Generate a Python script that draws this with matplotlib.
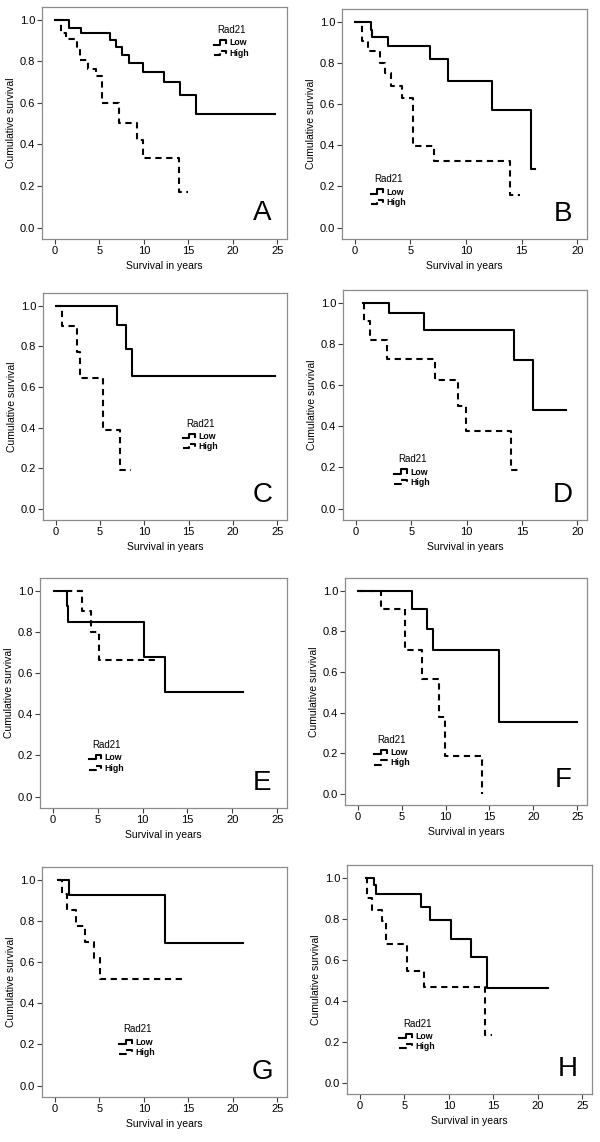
import matplotlib
matplotlib.use("Agg")
import matplotlib.pyplot as plt
from matplotlib.lines import Line2D
from matplotlib.legend_handler import HandlerBase

plt.rcParams['font.family'] = ['Liberation Sans', 'DejaVu Sans']

# Kaplan-Meier curves: step times, survival after each step, last follow-up time
letters = ['A', 'B', 'C', 'D', 'E', 'F', 'G', 'H']
x_max = [25, 20, 25, 20, 25, 25, 25, 25]

low_t = [
    [0, 1.58, 2.97, 6.17, 6.84, 7.6, 8.38, 9.96, 12.3, 14.1, 15.9],
    [0, 1.45, 1.58, 2.94, 6.76, 8.42, 12.3, 15.85],
    [0, 6.88, 7.9, 8.57],
    [0.66, 3.02, 6.16, 14.26, 15.98],
    [0.1, 1.55, 1.7, 10.2, 12.44],
    [0, 6.18, 7.9, 8.59, 16.07],
    [0.38, 1.62, 12.4],
    [0.64, 1.59, 1.77, 6.87, 7.93, 10.27, 12.46, 14.24],
]
low_s = [
    [1.0, 0.96, 0.936, 0.903, 0.871, 0.833, 0.794, 0.749, 0.699, 0.638, 0.545],
    [1.0, 0.96, 0.925, 0.883, 0.818, 0.713, 0.57, 0.285],
    [1.0, 0.904, 0.788, 0.656],
    [1.0, 0.952, 0.866, 0.72, 0.48],
    [1.0, 0.925, 0.846, 0.68, 0.509],
    [1.0, 0.909, 0.812, 0.706, 0.352],
    [1.0, 0.926, 0.692],
    [1.0, 0.963, 0.922, 0.857, 0.792, 0.701, 0.614, 0.463],
]
low_end = [24.8, 16.2, 24.8, 19.0, 21.2, 25.0, 21.2, 21.2]

high_t = [
    [0, 0.68, 1.28, 2.44, 2.8, 3.7, 4.6, 5.3, 7.2, 9.2, 9.9, 14.0],
    [0, 0.6, 1.15, 2.27, 2.73, 3.24, 4.24, 5.2, 7.12, 13.94],
    [0, 0.68, 2.44, 2.74, 5.38, 7.2],
    [0.7, 0.75, 1.3, 2.78, 7.16, 9.27, 9.94, 14.05],
    [1.5, 3.24, 4.26, 5.13],
    [0, 2.67, 5.34, 7.33, 9.27, 9.92, 14.1],
    [0.4, 0.79, 1.35, 2.37, 3.38, 4.36, 5.1],
    [0.7, 0.76, 1.4, 2.53, 2.9, 5.29, 7.25, 14.05],
]
high_s = [
    [1.0, 0.939, 0.907, 0.86, 0.805, 0.765, 0.73, 0.601, 0.505, 0.42, 0.336, 0.17],
    [1.0, 0.906, 0.858, 0.80, 0.749, 0.689, 0.632, 0.399, 0.322, 0.16],
    [1.0, 0.90, 0.774, 0.642, 0.388, 0.192],
    [1.0, 0.911, 0.821, 0.727, 0.627, 0.50, 0.378, 0.189],
    [1.0, 0.902, 0.80, 0.665],
    [1.0, 0.91, 0.709, 0.565, 0.377, 0.188, 0.0],
    [1.0, 0.93, 0.852, 0.774, 0.698, 0.618, 0.518],
    [1.0, 0.903, 0.841, 0.787, 0.675, 0.545, 0.468, 0.235],
]
high_end = [15.0, 14.85, 8.53, 14.95, 11.6, 14.1, 14.6, 14.9]

# axes boxes in pixels: left, top, right, bottom
boxes = [(42, 7, 287, 239), (342, 9, 587, 239),
         (43, 293, 287, 520), (343, 290, 587, 520),
         (40, 578, 287, 808), (345, 578, 587, 805),
         (42, 867, 287, 1097), (347, 865, 592, 1094)]
legend_pos = [(0.773, 0.847), (0.19, 0.206), (0.645, 0.37), (0.283, 0.21),
              (0.27, 0.22), (0.194, 0.233), (0.388, 0.24), (0.286, 0.253)]

W, H = 600, 1142
dash = (0, (3, 2.2))


class StepHandler(HandlerBase):
    def create_artists(self, legend, orig, xd, yd, width, height, fontsize, trans):
        xs = [-xd, -xd + width * 0.5, -xd + width * 0.5, -xd + width * 0.95, -xd + width * 0.95]
        ys = [-yd + height * 0.15, -yd + height * 0.15, -yd + height * 0.85,
              -yd + height * 0.85, -yd + height * 0.35]
        ln = Line2D(xs, ys, color='black', lw=orig.get_linewidth(), linestyle=orig.get_linestyle())
        ln.set_transform(trans)
        return [ln]


fig = plt.figure(figsize=(W / 100, H / 100), dpi=100)

for i in range(8):
    l, t, r, b = boxes[i]
    ax = fig.add_axes([l / W, 1 - b / H, (r - l) / W, (b - t) / H])

    xl = list(low_t[i]) + [low_end[i]]
    yl = list(low_s[i]) + [low_s[i][-1]]
    xh = list(high_t[i]) + [high_end[i]]
    yh = list(high_s[i]) + [high_s[i][-1]]
    ax.step(xh, yh, where='post', color='black', lw=1.5, linestyle=dash)
    ax.step(xl, yl, where='post', color='black', lw=1.5)

    xm = x_max[i]
    ax.set_xlim(-0.058 * xm, 1.044 * xm)
    ax.set_ylim(-0.055, 1.062)
    ax.set_xticks(range(0, xm + 1, 5))
    ax.set_yticks([0.0, 0.2, 0.4, 0.6, 0.8, 1.0])
    ax.set_yticklabels(['0.0', '0.2', '0.4', '0.6', '0.8', '1.0'])
    ax.tick_params(labelsize=8, length=3.5, width=0.8, direction='out', pad=1.5,
                   color='0.25')
    for s in ax.spines.values():
        s.set_color('0.55')
        s.set_linewidth(0.9)
    ax.set_xlabel('Survival in years', fontsize=7.5, labelpad=3.5)
    ax.set_ylabel('Cumulative survival', fontsize=7.5, labelpad=2.5)

    handles = [Line2D([], [], color='black', lw=1.5),
               Line2D([], [], color='black', lw=1.5, linestyle=(0, (2, 1.5)))]
    leg = ax.legend(handles, ['Low', 'High'], title='Rad21', loc='center',
                    bbox_to_anchor=legend_pos[i], frameon=False,
                    prop={'size': 6.3, 'weight': 'bold'},
                    title_fontsize=7, handlelength=1.5, handletextpad=0.3,
                    labelspacing=0.15, borderpad=0,
                    handler_map={Line2D: StepHandler()})
    leg.get_title().set_position((0, 2))

    ax.text(0.90, 0.11, letters[i], transform=ax.transAxes, fontsize=20,
            ha='center', va='center')

fig.savefig('out.png', dpi=100)
